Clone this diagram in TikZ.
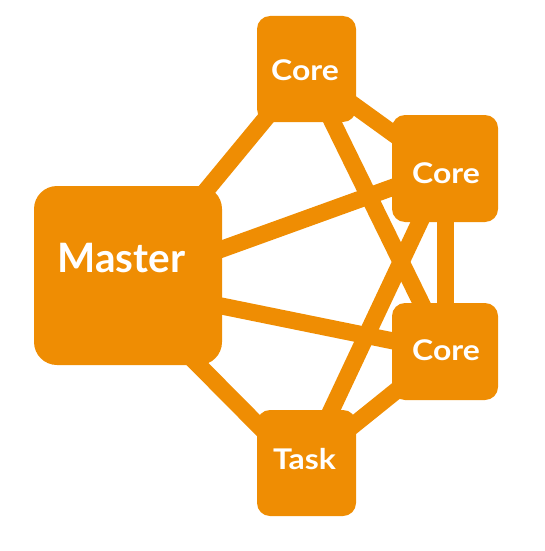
\documentclass[tikz,border=0pt]{standalone}
\usepackage{fontspec}
\setmainfont{Lato}
\definecolor{orng}{RGB}{239,141,3}
\begin{document}
\begin{tikzpicture}[x=1pt,y=-1pt,
  box/.style={draw=none,fill=orng,rectangle,inner sep=0pt,rounded corners=13pt},
  bigbox/.style={box,rounded corners=23pt},
  link/.style={draw=orng,line width=17pt},
  lbl/.style={text=white,anchor=base,inner sep=0pt,font=\bfseries\fontsize{28.5}{30}\selectfont\addfontfeature{FakeStretch=1.12}},
  biglbl/.style={text=white,anchor=base,inner sep=0pt,font=\bfseries\fontsize{40.5}{42}\selectfont}]
\pgfdeclarelayer{bg}\pgfsetlayers{bg,main}
\useasboundingbox (0,0) rectangle (544,551);
% boxes
\node[bigbox,minimum width=188pt,minimum height=179pt] (m) at (128,275.5) {};
\node[box,minimum width=99pt,minimum height=106pt] (c1) at (306.5,69) {};
\node[box,minimum width=106pt,minimum height=107pt] (c2) at (445,168.5) {};
\node[box,minimum width=106pt,minimum height=97pt] (c3) at (445,351.5) {};
\node[box,minimum width=99pt,minimum height=106pt] (t) at (306.5,463) {};
% connectors behind boxes
\begin{pgfonlayer}{bg}
\draw[link] ([shift={(0,9.5)}]m.center) -- (c1.center);
\draw[link] ([shift={(0,7.5)}]m.center) -- (c2.center);
\draw[link] ([shift={(0,11.5)}]m.center) -- (c3.center);
\draw[link] ([shift={(0,18.5)}]m.center) -- ([shift={(0,11)}]t.center);
\draw[link] ([shift={(0,2)}]c1.center) -- ([shift={(0,2.5)}]c2.center);
\draw[link] (c1.center) -- (c3.center);
\draw[link] (c2.center) -- (c3.center);
\draw[link] (c2.center) -- (t.center);
\draw[link] (c3.center) -- (t.center);
\end{pgfonlayer}
% labels
\node[biglbl] (mL) at (121.5,272) {Master};
\node[lbl] (c1L) at (305,80) {Core};
\node[lbl] (c2L) at (446,183) {Core};
\node[lbl] (c3L) at (446,360) {Core};
\node[lbl] (tL) at (304.5,469) {Task};
\end{tikzpicture}
\end{document}
